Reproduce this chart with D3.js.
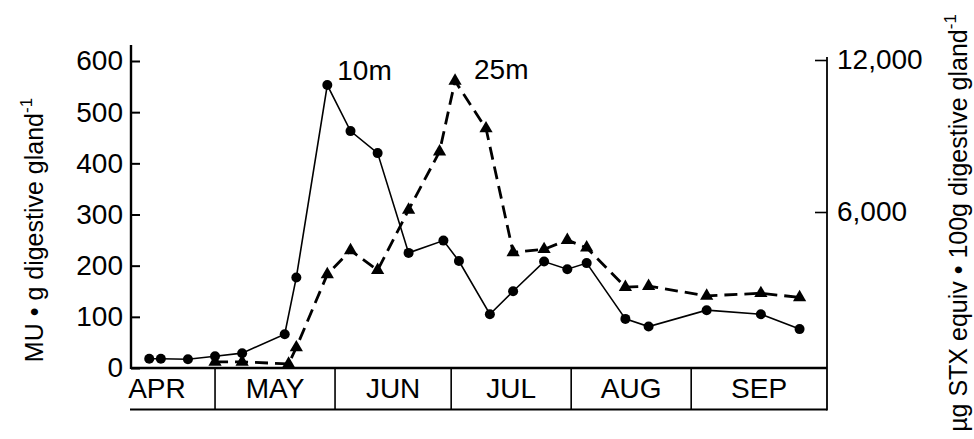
<!DOCTYPE html>
<html>
<head>
<meta charset="utf-8">
<script src="https://cdn.jsdelivr.net/npm/d3@7"></script>
<style>
  html, body { margin: 0; padding: 0; background: #fff; }
  svg { display: block; font-family: "Liberation Sans", Arial, Helvetica, sans-serif; }
</style>
</head>
<body>
<svg id="chart" width="974" height="439"></svg>
<script>
// Sampling season (month-day) and toxicity in the digestive gland
const YEAR = 1990;
const months = ["APR", "MAY", "JUN", "JUL", "AUG", "SEP"];

// 10 m depth: mouse units per g digestive gland
const dates10m = ["04-14", "04-17", "04-24", "05-01", "05-08", "05-19", "05-22", "05-30",
                  "06-05", "06-12", "06-20", "06-29", "07-03", "07-11", "07-17", "07-25",
                  "07-31", "08-05", "08-15", "08-21", "09-05", "09-19", "09-29"];
const toxin10m = [18, 18, 17, 23, 29, 66, 177, 553,
                  463, 420, 225, 249, 209, 105, 150, 208,
                  193, 205, 96, 81, 113, 105, 76];

// 25 m depth
const dates25m = ["05-01", "05-08", "05-20", "05-22", "05-30", "06-05", "06-12", "06-20",
                  "06-28", "07-02", "07-10", "07-17", "07-25", "07-31", "08-05", "08-15",
                  "08-21", "09-05", "09-19", "09-29"];
const toxin25m = [12, 12, 8, 40, 183, 230, 191, 309,
                  423, 561, 468, 226, 232, 250, 235, 158,
                  160, 141, 146, 138];

const leftTicks = [0, 100, 200, 300, 400, 500, 600];
const rightTicks = [6000, 12000];

const parse = d3.utcParse("%Y-%m-%d");
const toDate = s => parse(`${YEAR}-${s}`);
const series10 = dates10m.map((d, i) => ({ date: toDate(d), value: toxin10m[i] }));
const series25 = dates25m.map((d, i) => ({ date: toDate(d), value: toxin25m[i] }));

const svg = d3.select("#chart");
svg.append("rect").attr("width", 974).attr("height", 439).attr("fill", "#fff");

const x = d3.scaleUtc()
  .domain([new Date(Date.UTC(YEAR, 3, 9, 7)), new Date(Date.UTC(YEAR, 9, 6, 2))])
  .range([131, 827]);
const y = d3.scaleLinear().domain([0, 600]).range([368, 61]);
const yRight = d3.scaleLinear().domain([0, 12000]).range([364, 60]);

const x0 = x.range()[0], x1 = x.range()[1];
const baseY = y(0), boxBottom = 409.5;

// Month strip under the time axis
const monthStarts = months.map((m, i) => new Date(Date.UTC(YEAR, 3 + i, 1)));
const strip = svg.append("g").attr("stroke", "#000").attr("fill", "none");
strip.append("line").attr("x1", x0 - 1).attr("x2", x1).attr("y1", boxBottom).attr("y2", boxBottom)
  .attr("stroke-width", 2);
monthStarts.slice(1).forEach(d => {
  strip.append("line").attr("x1", x(d)).attr("x2", x(d)).attr("y1", baseY).attr("y2", boxBottom)
    .attr("stroke-width", 1.6);
});
svg.append("g").selectAll("text").data(months).join("text")
  .attr("x", (m, i) => {
    const a = x(monthStarts[i]);
    const b = i < months.length - 1 ? x(monthStarts[i + 1]) : x1;
    return (a + b) / 2;
  })
  .attr("y", 398)
  .attr("text-anchor", "middle")
  .attr("font-size", 28)
  .attr("fill", "#000")
  .text(m => m);

// Left axis
const gLeft = svg.append("g").attr("transform", `translate(${x0},0)`)
  .call(d3.axisLeft(y).tickValues(leftTicks).tickSizeInner(-9).tickSizeOuter(0).tickPadding(8));
gLeft.select(".domain").remove();
gLeft.selectAll(".tick line").attr("stroke", "#000").attr("stroke-width", 2);
gLeft.selectAll(".tick text").attr("font-size", 28).attr("font-family", null).attr("fill", "#000");
svg.append("line").attr("x1", x0).attr("x2", x0).attr("y1", 45).attr("y2", baseY + 1)
  .attr("stroke", "#000").attr("stroke-width", 2.4);

// Baseline of the time axis
svg.append("line").attr("x1", x0).attr("x2", x1).attr("y1", baseY).attr("y2", baseY)
  .attr("stroke", "#000").attr("stroke-width", 2.4);

// Right axis (µg STX equivalents)
const gRight = svg.append("g").attr("transform", `translate(${x1},0)`)
  .call(d3.axisRight(yRight).tickValues(rightTicks).tickFormat(d3.format(","))
    .tickSizeInner(-12).tickSizeOuter(0).tickPadding(10));
gRight.select(".domain").remove();
gRight.selectAll(".tick line").attr("stroke", "#000").attr("stroke-width", 1.6);
gRight.selectAll(".tick text").attr("font-size", 28).attr("font-family", null).attr("fill", "#000");
svg.append("line").attr("x1", x1).attr("x2", x1).attr("y1", yRight(12000) - 3).attr("y2", boxBottom + 1)
  .attr("stroke", "#000").attr("stroke-width", 1.8);

// Axis titles
const leftTitle = svg.append("text")
  .attr("transform", "translate(43,230) rotate(-90)")
  .attr("text-anchor", "middle").attr("font-size", 25).attr("fill", "#000");
leftTitle.append("tspan").text("MU • g digestive gland");
leftTitle.append("tspan").attr("dy", -11).attr("font-size", 17).text("-1");

const rightTitle = svg.append("text")
  .attr("transform", "translate(967,223) rotate(-90)")
  .attr("text-anchor", "middle").attr("font-size", 25).attr("fill", "#000");
rightTitle.append("tspan").text("µg STX equiv • 100g digestive gland");
rightTitle.append("tspan").attr("dy", -11).attr("font-size", 17).text("-1");

// Lines
const line = d3.line().x(d => x(d.date)).y(d => y(d.value));
svg.append("path").datum(series10).attr("d", line)
  .attr("fill", "none").attr("stroke", "#000").attr("stroke-width", 1.6);
svg.append("path").datum(series25).attr("d", line)
  .attr("fill", "none").attr("stroke", "#000").attr("stroke-width", 2.8)
  .attr("stroke-dasharray", "13,7");

// Markers
svg.append("g").selectAll("circle").data(series10).join("circle")
  .attr("cx", d => x(d.date)).attr("cy", d => y(d.value)).attr("r", 5).attr("fill", "#000");
const tri = d3.symbol().type(d3.symbolTriangle).size(76);
svg.append("g").selectAll("path").data(series25).join("path")
  .attr("transform", d => `translate(${x(d.date)},${y(d.value)})`)
  .attr("d", tri).attr("fill", "#000");

// Depth labels next to each peak
const peak10 = series10.reduce((a, b) => (b.value > a.value ? b : a));
const peak25 = series25.reduce((a, b) => (b.value > a.value ? b : a));
svg.append("text").attr("x", x(peak10.date) + 10).attr("y", y(peak10.value) - 5)
  .attr("font-size", 28).attr("fill", "#000").text("10m");
svg.append("text").attr("x", x(peak25.date) + 19).attr("y", y(peak25.value) - 2)
  .attr("font-size", 28).attr("fill", "#000").text("25m");
</script>
</body>
</html>
